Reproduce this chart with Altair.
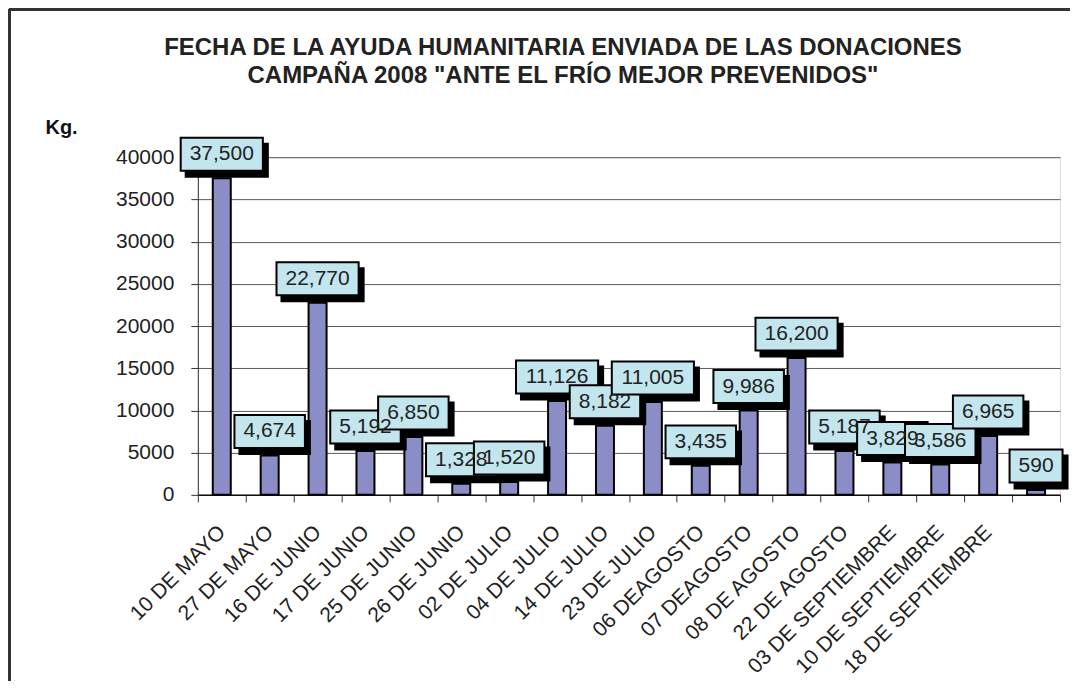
import altair as alt
import pandas as pd

categories = ["10 DE MAYO", "27 DE MAYO", "16 DE JUNIO", "17 DE JUNIO", "25 DE JUNIO",
              "26 DE JUNIO", "02 DE JULIO", "04 DE JULIO", "14 DE JULIO", "23 DE JULIO",
              "06 DEAGOSTO", "07 DEAGOSTO", "08 DE AGOSTO", "22 DE AGOSTO",
              "03 DE SEPTIEMBRE", "10 DE SEPTIEMBRE", "18 DE SEPTIEMBRE", " "]
kg = [37500, 4674, 22770, 5192, 6850, 1328, 1520, 11126, 8182, 11005,
      3435, 9986, 16200, 5187, 3829, 3586, 6965, 590]
y_ticks = [0, 5000, 10000, 15000, 20000, 25000, 30000, 35000, 40000]
title_lines = ["FECHA DE LA AYUDA HUMANITARIA ENVIADA DE LAS DONACIONES",
               "CAMPAÑA 2008 \"ANTE EL FRÍO MEJOR PREVENIDOS\""]

df = pd.DataFrame({"fecha": categories, "kg": kg})

FONT = "Liberation Sans"
LBL = 21

x_enc = alt.X("fecha:N", sort=categories, title=None,
              scale=alt.Scale(paddingInner=0, paddingOuter=0),
              axis=alt.Axis(labelAngle=-45, labelAlign="right", labelBaseline="middle",
                            labelFontSize=21, labelColor="#222", labelFont=FONT,
                            labelPadding=27, labelLimit=400, tickSize=7, tickColor="#333",
                            tickBand="extent", domainColor="#111", domainWidth=1.5,
                            labelOverlap=False))
y_enc = alt.Y("kg:Q", scale=alt.Scale(domain=[0, 40000], nice=False),
              axis=alt.Axis(values=y_ticks, format="d", labelFontSize=21,
                            labelColor="#222", labelFont=FONT, labelPadding=17,
                            tickSize=7, tickColor="#333", domainColor="#333",
                            gridColor="#5a5a5a", gridWidth=1,
                            title="Kg.", titleAngle=0, titleX=-153, titleY=-24,
                            titleAlign="left", titleBaseline="alphabetic",
                            titleFontSize=20, titleFontWeight="bold", titleFont=FONT,
                            titleColor="#111"))

base = alt.Chart(df)

bars = base.mark_bar(size=18, fill="#8B8EC6", stroke="#000", strokeWidth=2).encode(
    x=x_enc, y=y_enc)

lab = base.transform_calculate(
    txt="format(datum.kg, ',d')"
).transform_calculate(
    w="(length(replace(datum.txt, ',', '')) * 0.556 + (length(datum.txt) - length(replace(datum.txt, ',', ''))) * 0.278) * 21 + 18"
).transform_calculate(
    w2="datum.w + 2"
)

shadow = lab.mark_bar(fill="#000", xOffset=5, yOffset=-35.5, y2Offset=-0.5).encode(
    x=alt.X("fecha:N", sort=categories),
    y="kg:Q", y2="kg:Q",
    size=alt.Size("w2:Q", scale=None, legend=None))

box = lab.mark_bar(fill="#C3E6EE", stroke="#000", strokeWidth=2,
                   yOffset=-40.5, y2Offset=-7.5).encode(
    x=alt.X("fecha:N", sort=categories),
    y="kg:Q", y2="kg:Q",
    size=alt.Size("w:Q", scale=None, legend=None))

text = lab.mark_text(dy=-24, baseline="middle", fontSize=LBL, font=FONT,
                     color="#222").encode(
    x=alt.X("fecha:N", sort=categories),
    y="kg:Q",
    text="txt:N")

frame_top = base.mark_rule(color="#333", strokeWidth=2.5).encode(
    x=alt.value(-189), x2=alt.value(1000), y=alt.value(-148))
frame_left = base.mark_rule(color="#333", strokeWidth=2.5).encode(
    x=alt.value(-189), y=alt.value(-148), y2=alt.value(600))

chart = alt.layer(frame_top, frame_left, bars, shadow, box, text).properties(
    width=863, height=338,
    autosize=alt.AutoSizeParams(type="none"),
    padding={"left": 190, "top": 149, "right": 10, "bottom": 186},
    title=alt.TitleParams(text=title_lines, fontSize=24, fontWeight="bold", font=FONT,
                          color="#222", anchor="middle", dx=-66, dy=80, lineHeight=28,
                          offset=0)
).configure_view(
    fill="#FAC797", stroke="#808080", strokeWidth=1.5
).configure(background="white")

chart.save("out.html", embed_options={"renderer": "svg", "actions": False})
